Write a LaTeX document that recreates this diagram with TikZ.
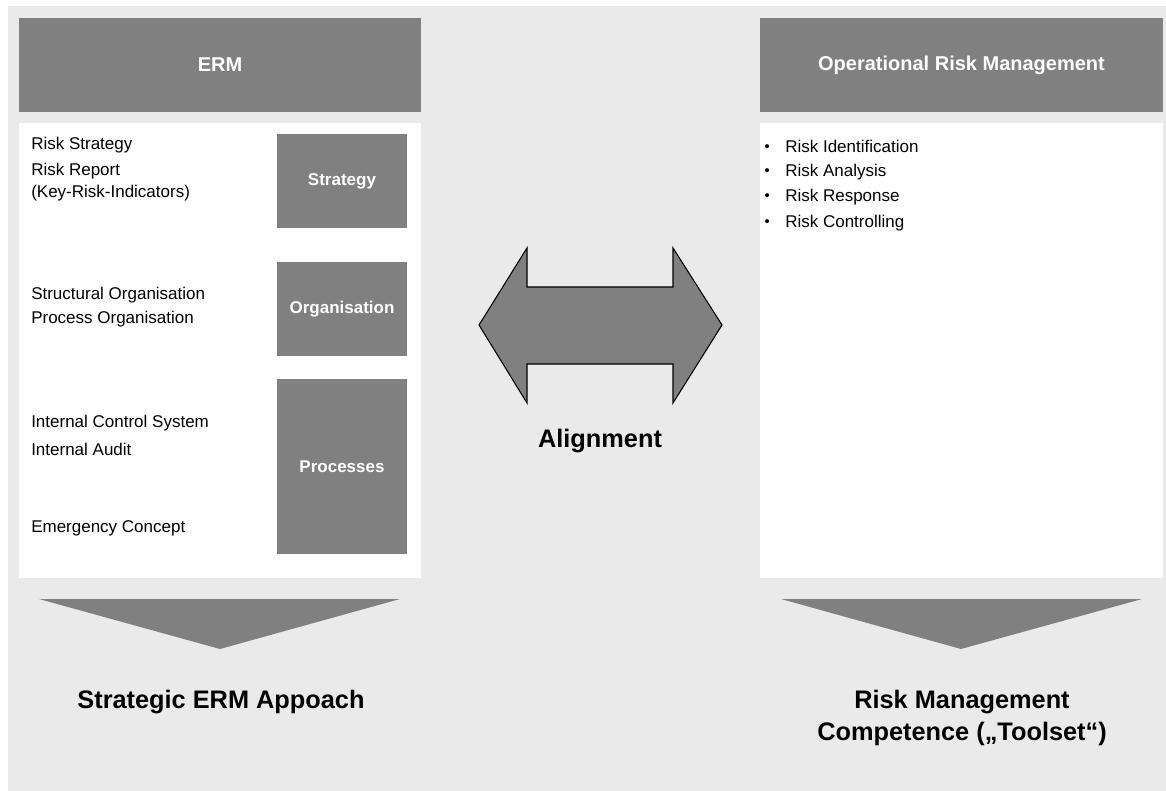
\documentclass[tikz,border=0pt]{standalone}
\usepackage{fontspec}
\setmainfont{Liberation Sans}
\usepackage{xcolor}
\usepackage{tikz}

\definecolor{boxgray}{HTML}{808080}
\definecolor{bggray}{HTML}{EAEAEA}
\newcommand{\itemdot}{\makebox[16.5pt][l]{\hspace{1pt}\raisebox{0.6pt}{\fontsize{11}{12}\selectfont\textbullet}}}

\begin{document}
\begin{tikzpicture}[x=0.75pt, y=-0.75pt,
                headbox/.style={fill=boxgray, text=white, inner sep=0pt,
                    minimum height=70.5pt, font=\fontsize{15}{18}\selectfont\bfseries},
                panel/.style={fill=white, inner sep=0pt, minimum height=341.25pt},
                tagbox/.style={fill=boxgray, text=white, inner sep=0pt,
                    minimum width=97.5pt, font=\fontsize{12.75}{15}\selectfont\bfseries},
                entry/.style={anchor=west, inner sep=0pt, font=\fontsize{12.75}{15}\selectfont},
                result/.style={align=center, inner sep=0pt,
                    font=\fontsize{19}{24}\selectfont\bfseries}]
                \useasboundingbox (0,0) rectangle (1166,791);
                \fill[bggray] (8,6) rectangle (1166,791);

                % left column
                \node[headbox, minimum width=301.5pt] (erm) at (220,65) {ERM};
                \node[panel, minimum width=301.5pt] (leftpanel) at (220,350.5) {};
                \node[tagbox, minimum height=70.5pt] (strategy) at (342,181) {Strategy};
                \node[tagbox, minimum height=70.5pt] (organisation) at (342,309) {Organisation};
                \node[tagbox, minimum height=131.25pt] (processes) at (342,466.5) {Processes};
                \node[entry] (riskstrat) at (31,145) {Risk Strategy};
                \node[entry] (riskrep) at (31,171) {Risk Report};
                \node[entry] (kri) at (31,193) {(Key-Risk-Indicators)};
                \node[entry] (structorg) at (31,295) {Structural Organisation};
                \node[entry] (procorg) at (31,319) {Process Organisation};
                \node[entry] (ics) at (31,423) {Internal Control System};
                \node[entry] (audit) at (31,449) {Internal Audit};
                \node[entry] (emergency) at (31,528) {Emergency Concept};

                % right column
                \node[headbox, minimum width=302.25pt] (orm) at (961.5,65) {Operational Risk Management};
                \node[panel, minimum width=302.25pt] (rightpanel) at (961.5,350.5) {};
                \node[entry] (ident) at (763,146) {\itemdot Risk Identification};
                \node[entry] (analysis) at (763,172) {\itemdot Risk Analysis};
                \node[entry] (response) at (763,197) {\itemdot Risk Response};
                \node[entry] (controlling) at (763,223) {\itemdot Risk Controlling};

                % alignment arrow
                \draw[fill=boxgray, line width=0.8pt]
                    (479,325) -- (527,248) -- (527,287) -- (673,287) -- (673,248) --
                    (722,325) -- (673,403) -- (673,364) -- (527,364) -- (527,403) -- cycle;
                \node[result] (alignment) at (600,441) {Alignment};

                % down triangles
                \fill[boxgray] (39,599) -- (400,599) -- (220,649) -- cycle;
                \fill[boxgray] (781,599) -- (1142,599) -- (961,649) -- cycle;
                \node[result] (ermapproach) at (221,702) {Strategic ERM Appoach};
                \node[result] (toolset) at (962,718) {Risk Management\\Competence („Toolset“)};
            \end{tikzpicture}
\end{document}
